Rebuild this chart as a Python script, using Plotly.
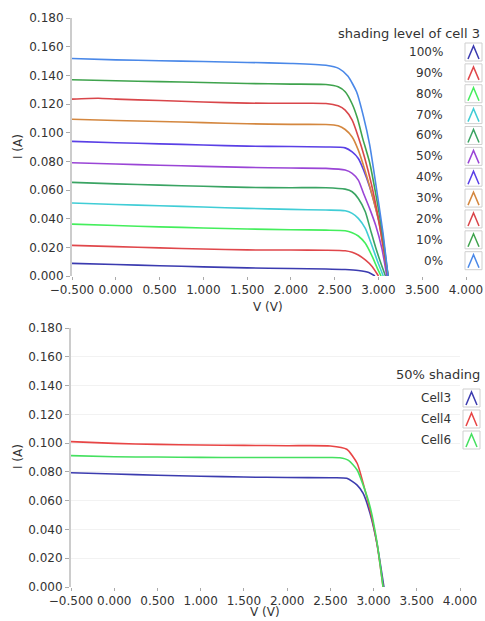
import plotly.graph_objects as go

# ---------------- data: top chart (shading level of cell 3) ----------------
shading_levels = ["100%", "90%", "80%", "70%", "60%", "50%", "40%", "30%", "20%", "10%", "0%"]

V_0 = [-0.5, 0.0, 0.5, 1.0, 1.5, 2.0, 2.4, 2.55, 2.65, 2.75, 2.83, 2.9, 2.98, 3.05, 3.11]
I_0 = [0.1517, 0.1508, 0.1502, 0.1496, 0.1490, 0.1483, 0.1470, 0.1447, 0.1395, 0.1285, 0.1110, 0.0915, 0.0600, 0.0310, 0.0]

V_10 = [-0.5, 0.0, 0.5, 1.0, 1.5, 2.0, 2.4, 2.54, 2.62, 2.70, 2.76, 2.82, 2.9, 2.97, 3.04, 3.11]
I_10 = [0.1369, 0.1362, 0.1356, 0.1350, 0.1343, 0.1339, 0.1336, 0.1320, 0.1285, 0.1200, 0.1100, 0.0960, 0.0790, 0.0570, 0.0320, 0.0]

V_20 = [-0.5, -0.2, 0.0, 0.5, 1.0, 1.5, 2.0, 2.4, 2.54, 2.62, 2.70, 2.77, 2.84, 2.92, 3.0, 3.11]
I_20 = [0.1234, 0.1240, 0.1234, 0.1224, 0.1214, 0.1206, 0.1205, 0.1204, 0.1187, 0.1157, 0.1087, 0.0970, 0.0830, 0.0640, 0.0400, 0.0]

V_30 = [-0.5, 0.0, 0.5, 1.0, 1.5, 2.0, 2.4, 2.54, 2.62, 2.70, 2.77, 2.85, 2.93, 3.0, 3.11]
I_30 = [0.1094, 0.1085, 0.1078, 0.1070, 0.1062, 0.1058, 0.1057, 0.1048, 0.1022, 0.0970, 0.0878, 0.0730, 0.0560, 0.0390, 0.0]

V_40 = [-0.5, 0.0, 0.5, 1.0, 1.5, 2.0, 2.4, 2.62, 2.70, 2.77, 2.83, 2.9, 2.97, 3.04, 3.105]
I_40 = [0.0939, 0.0930, 0.0922, 0.0914, 0.0906, 0.0903, 0.0900, 0.0894, 0.0866, 0.0820, 0.0740, 0.0620, 0.0470, 0.0290, 0.0]

V_50 = [-0.5, 0.0, 0.5, 1.0, 1.5, 2.0, 2.4, 2.62, 2.70, 2.77, 2.83, 2.9, 2.97, 3.04, 3.095]
I_50 = [0.0790, 0.0781, 0.0773, 0.0765, 0.0758, 0.0753, 0.0751, 0.0739, 0.0716, 0.0669, 0.0576, 0.0470, 0.0350, 0.0190, 0.0]

V_60 = [-0.5, 0.0, 0.5, 1.0, 1.5, 2.0, 2.4, 2.62, 2.70, 2.77, 2.85, 2.91, 2.97, 3.03, 3.08]
I_60 = [0.0653, 0.0643, 0.0634, 0.0626, 0.0618, 0.0616, 0.0616, 0.0606, 0.0588, 0.0541, 0.0448, 0.0320, 0.0195, 0.0085, 0.0]

V_70 = [-0.5, 0.0, 0.5, 1.0, 1.5, 2.0, 2.4, 2.62, 2.70, 2.77, 2.85, 2.93, 3.0, 3.055]
I_70 = [0.0509, 0.0499, 0.0490, 0.0481, 0.0472, 0.0465, 0.0460, 0.0455, 0.0437, 0.0402, 0.0332, 0.0204, 0.0085, 0.0]

V_80 = [-0.5, 0.0, 0.5, 1.0, 1.5, 2.0, 2.4, 2.62, 2.70, 2.77, 2.85, 2.93, 2.99, 3.03]
I_80 = [0.0362, 0.0352, 0.0343, 0.0335, 0.0328, 0.0323, 0.0320, 0.0316, 0.0302, 0.0279, 0.0228, 0.0135, 0.0050, 0.0]

V_90 = [-0.5, 0.0, 0.5, 1.0, 1.5, 2.0, 2.4, 2.62, 2.70, 2.77, 2.85, 2.93, 3.0]
I_90 = [0.0214, 0.0205, 0.0196, 0.0188, 0.0182, 0.0181, 0.0180, 0.0176, 0.0165, 0.0146, 0.0112, 0.0065, 0.0]

V_100 = [-0.5, 0.0, 0.5, 1.0, 1.5, 2.0, 2.4, 2.62, 2.77, 2.89, 2.96]
I_100 = [0.0088, 0.0080, 0.0072, 0.0064, 0.0057, 0.0052, 0.0049, 0.0045, 0.0038, 0.0024, 0.0]

top_V = [V_100, V_90, V_80, V_70, V_60, V_50, V_40, V_30, V_20, V_10, V_0]
top_I = [I_100, I_90, I_80, I_70, I_60, I_50, I_40, I_30, I_20, I_10, I_0]
top_colors = ["#3b3bb0", "#e0474b", "#44ee5c", "#40cdd6", "#3aa463", "#9a45d6",
              "#5a40e6", "#d4873f", "#d9464a", "#3fa34d", "#4a88e8"]

# ---------------- data: bottom chart (50% shading) ----------------
cells = ["Cell3", "Cell4", "Cell6"]
V_cell3 = [-0.5, 0.0, 0.5, 1.0, 1.5, 2.0, 2.5, 2.69, 2.81, 2.88, 2.96, 3.04, 3.12]
I_cell3 = [0.0794, 0.0785, 0.0777, 0.0770, 0.0764, 0.0761, 0.0759, 0.0755, 0.0708, 0.0650, 0.0510, 0.0300, 0.0]
V_cell4 = [-0.5, 0.0, 0.5, 1.0, 1.5, 2.0, 2.5, 2.69, 2.81, 2.88, 2.96, 3.04, 3.11]
I_cell4 = [0.1010, 0.0998, 0.0991, 0.0987, 0.0984, 0.0982, 0.0980, 0.0957, 0.0860, 0.0720, 0.0534, 0.0300, 0.0]
V_cell6 = [-0.5, 0.0, 0.5, 1.0, 1.5, 2.0, 2.5, 2.61, 2.71, 2.81, 2.88, 2.96, 3.04, 3.11]
I_cell6 = [0.0913, 0.0905, 0.0903, 0.0901, 0.0900, 0.0900, 0.0900, 0.0898, 0.0880, 0.0813, 0.0708, 0.0557, 0.0310, 0.0]
bot_V = [V_cell3, V_cell4, V_cell6]
bot_I = [I_cell3, I_cell4, I_cell6]
bot_colors = ["#3c3caf", "#e84545", "#45e060"]

x_ticks = [-0.5, 0.0, 0.5, 1.0, 1.5, 2.0, 2.5, 3.0, 3.5, 4.0]
y_ticks = [0.0, 0.02, 0.04, 0.06, 0.08, 0.10, 0.12, 0.14, 0.16, 0.18]

# ---------------- figure ----------------
W, H = 485, 621
FONT = "DejaVu Sans"
TXT = "#333333"


def px(x):
    return x / W


def py(y):
    return 1 - y / H


fig = go.Figure()

for v, i, c, name in zip(top_V, top_I, top_colors, shading_levels):
    fig.add_trace(go.Scatter(x=v, y=i, mode="lines", name=name, xaxis="x", yaxis="y",
                             line=dict(color=c, width=1.6, shape="spline", smoothing=0.6),
                             showlegend=False))
for v, i, c, name in zip(bot_V, bot_I, bot_colors, cells):
    fig.add_trace(go.Scatter(x=v, y=i, mode="lines", name=name, xaxis="x2", yaxis="y2",
                             line=dict(color=c, width=1.6, shape="spline", smoothing=0.6),
                             showlegend=False))

xa = dict(range=[-0.5, 4.0], tickvals=x_ticks, tickformat=".3f", showline=False,
          showgrid=False, zeroline=False, ticks="outside", ticklen=3, tickcolor="#aaaaaa",
          tickangle=0, automargin=False,
          tickfont=dict(family=FONT, size=12, color=TXT))
ya = dict(range=[0, 0.18], tickvals=y_ticks, tickformat=".3f", showline=True,
          linecolor="#cccccc", linewidth=2, zeroline=False, ticks="outside", ticklen=4,
          automargin=False,
          tickcolor="#aaaaaa", tickfont=dict(family=FONT, size=12, color=TXT))

fig.update_layout(
    width=W, height=H, margin=dict(l=0, r=0, t=0, b=0),
    paper_bgcolor="white", plot_bgcolor="white",
    xaxis=dict(xa, domain=[px(72), px(466)], anchor="y"),
    yaxis=dict(ya, domain=[py(276), py(18)], anchor="x", showgrid=False),
    xaxis2=dict(xa, domain=[px(71), px(460)], anchor="y2"),
    yaxis2=dict(ya, domain=[py(587), py(328)], anchor="x2", showgrid=True,
                gridcolor="#f2f2f2", gridwidth=1),
)

annotations = []
shapes = []

# axis titles
for (xc, yc) in [(268, 307), (265, 612)]:
    annotations.append(dict(text="V (V)", x=px(xc), y=py(yc), xref="paper", yref="paper",
                            xanchor="center", yanchor="middle", showarrow=False,
                            font=dict(family=FONT, size=12, color=TXT)))
for (xc, yc) in [(18, 147), (18, 457)]:
    annotations.append(dict(text="I (A)", x=px(xc), y=py(yc), xref="paper", yref="paper",
                            xanchor="center", yanchor="middle", showarrow=False, textangle=-90,
                            font=dict(family=FONT, size=12, color=TXT)))


def legend_block(title, title_y, labels, colors, row0, dy, label_right, box_left):
    annotations.append(dict(text=title, x=px(482), y=py(title_y), xref="paper", yref="paper",
                            xanchor="right", yanchor="middle", showarrow=False,
                            font=dict(family=FONT, size=13, color=TXT)))
    for k, (lab, col) in enumerate(zip(labels, colors)):
        yc = row0 + k * dy
        annotations.append(dict(text=lab, x=px(label_right), y=py(yc), xref="paper",
                                yref="paper", xanchor="right", yanchor="middle",
                                showarrow=False, font=dict(family=FONT, size=12, color=TXT)))
        x0, x1 = box_left, box_left + 17
        y0, y1 = yc - 9, yc + 9
        shapes.append(dict(type="rect", xref="paper", yref="paper",
                           x0=px(x0), x1=px(x1), y0=py(y1), y1=py(y0),
                           line=dict(color="#cfcfcf", width=1), fillcolor="white"))
        path = "M {} {} L {} {} L {} {}".format(px(x0 + 3), py(y1 - 2), px(x0 + 8.5), py(y0 + 3),
                                               px(x0 + 14), py(y1 - 2))
        shapes.append(dict(type="path", xref="paper", yref="paper", path=path,
                           line=dict(color=col, width=1.5)))


legend_block("shading level of cell 3", 33, shading_levels, top_colors, 52, 20.87, 445, 465)
legend_block("50% shading", 374, cells, bot_colors, 398, 21, 453, 463)

fig.update_layout(annotations=annotations, shapes=shapes)

fig.write_html("out.html", config={"displayModeBar": False},
               post_script="document.body.style.margin='0px';")
